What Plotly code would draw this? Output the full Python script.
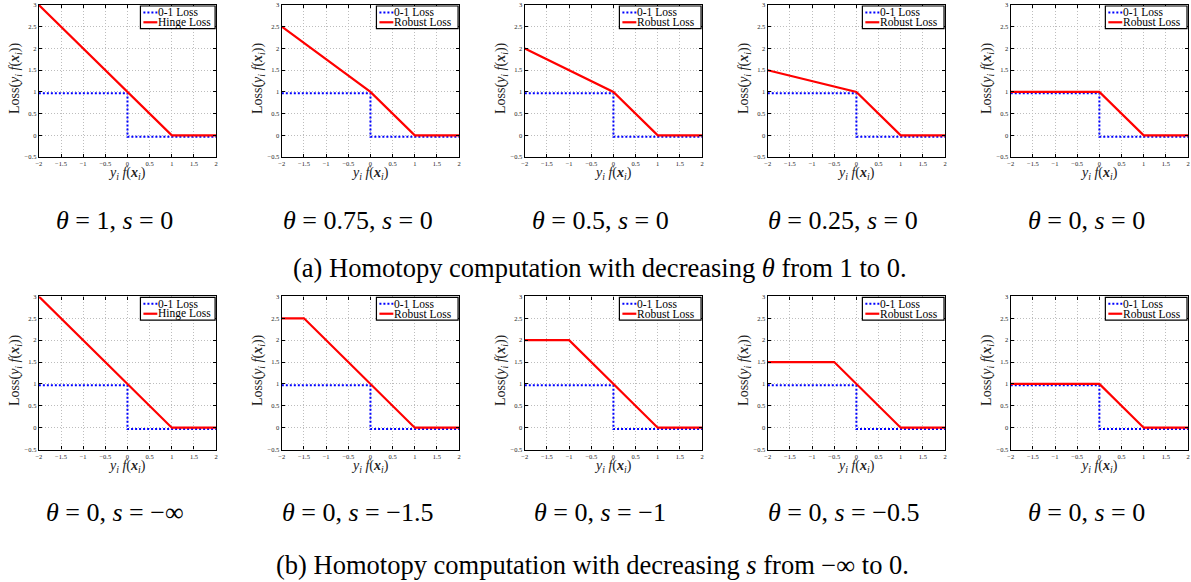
import plotly.graph_objects as go

# ---------------- data ----------------
x_01 = [-2, 0, 0, 2]
y_01 = [0.97, 0.97, -0.03, -0.03]

row1_x = [[-2, 0, 1, 2], [-2, 0, 1, 2], [-2, 0, 1, 2], [-2, 0, 1, 2], [-2, 0, 1, 2]]
row1_y = [[3, 1, 0, 0], [2.5, 1, 0, 0], [2, 1, 0, 0], [1.5, 1, 0, 0], [1, 1, 0, 0]]
row2_x = [[-2, 1, 2], [-2, -1.5, 1, 2], [-2, -1, 1, 2], [-2, -0.5, 1, 2], [-2, 0, 1, 2]]
row2_y = [[3, 0, 0], [2.5, 2.5, 0, 0], [2, 2, 0, 0], [1.5, 1.5, 0, 0], [1, 1, 0, 0]]

loss_names_row = ["Hinge Loss", "Robust Loss", "Robust Loss", "Robust Loss", "Robust Loss"]
row1_captions = ["<i>θ</i> = 1, <i>s</i> = 0", "<i>θ</i> = 0.75, <i>s</i> = 0",
                 "<i>θ</i> = 0.5, <i>s</i> = 0", "<i>θ</i> = 0.25, <i>s</i> = 0",
                 "<i>θ</i> = 0, <i>s</i> = 0"]
row2_captions = ["<i>θ</i> = 0, <i>s</i> = −∞", "<i>θ</i> = 0, <i>s</i> = −1.5",
                 "<i>θ</i> = 0, <i>s</i> = −1", "<i>θ</i> = 0, <i>s</i> = −0.5",
                 "<i>θ</i> = 0, <i>s</i> = 0"]
caption_a = "(a) Homotopy computation with decreasing <i>θ</i> from 1 to 0."
caption_b = "(b) Homotopy computation with decreasing <i>s</i> from −∞ to 0."

x_ticks = [-2, -1.5, -1, -0.5, 0, 0.5, 1, 1.5, 2]
y_ticks = [-0.5, 0, 0.5, 1, 1.5, 2, 2.5, 3]

# ---------------- layout helpers ----------------
W, H = 1191, 582
SERIF = "Liberation Serif"
DOTS = "2px,2px"


def px(x):
    return x / W


def py(y):
    return 1 - y / H


lefts = [36, 280, 524, 768, 1012]
pw = 178
tops = [1, 296]
bottoms = [155, 451]

fig = go.Figure()
layout = dict(width=W, height=H, margin=dict(l=0, r=0, t=0, b=0),
              paper_bgcolor="white", plot_bgcolor="white", showlegend=False)
shapes = []
annotations = []

xs_all = row1_x + row2_x
ys_all = row1_y + row2_y
caps_all = row1_captions + row2_captions

for n in range(1, 11):
    r = (n - 1) // 5
    c = (n - 1) % 5
    L = lefts[c]
    R = L + pw
    T = tops[r]
    B = bottoms[r]
    xa = "x" if n == 1 else f"x{n}"
    ya = "y" if n == 1 else f"y{n}"
    axis_common = dict(showline=True, linecolor="black", linewidth=1.3, mirror="ticks",
                       ticks="inside", ticklen=3, tickcolor="black", tickwidth=1,
                       showgrid=True, gridcolor="#bdbdbd", griddash="1px,2px", gridwidth=1,
                       zeroline=False, tickfont=dict(family=SERIF, size=6.5, color="#222"),
                       fixedrange=True)
    layout["xaxis" if n == 1 else f"xaxis{n}"] = dict(
        domain=[px(L), px(R)], anchor=ya, range=[-2, 2], tickvals=x_ticks, **axis_common)
    layout["yaxis" if n == 1 else f"yaxis{n}"] = dict(
        domain=[py(B), py(T)], anchor=xa, range=[-0.5, 3], tickvals=y_ticks, **axis_common)

    fig.add_trace(go.Scatter(x=x_01, y=y_01, mode="lines", xaxis=xa, yaxis=ya,
                             line=dict(color="#0000ff", width=2, dash=DOTS),
                             name="0-1 Loss", hoverinfo="skip"))
    fig.add_trace(go.Scatter(x=xs_all[n - 1], y=ys_all[n - 1], mode="lines", xaxis=xa, yaxis=ya,
                             line=dict(color="#ff0000", width=2.2),
                             name=loss_names_row[c], hoverinfo="skip"))

    # axis titles
    annotations.append(dict(
        x=px((L + R) / 2), y=py(B + 17), xref="paper", yref="paper", showarrow=False,
        text="<i>y<sub>i</sub> f</i>(<b><i>x</i></b><sub><i>i</i></sub>)",
        font=dict(family=SERIF, size=14, color="#222"), xanchor="center", yanchor="middle"))
    annotations.append(dict(
        x=px(L - 24), y=py((T + B) / 2 - 3), xref="paper", yref="paper", showarrow=False,
        text="Loss(<i>y<sub>i</sub> f</i>(<b><i>x</i></b><sub><i>i</i></sub>))", textangle=-90,
        font=dict(family=SERIF, size=14, color="#222"), xanchor="center", yanchor="middle"))

    # legend box
    wL = 75 if c == 0 else 82
    bx1 = R - 1
    bx0 = bx1 - wL
    by0 = T + 1
    by1 = by0 + 23
    shapes.append(dict(type="rect", xref="paper", yref="paper",
                       x0=px(bx0), x1=px(bx1), y0=py(by1), y1=py(by0),
                       fillcolor="white", line=dict(color="black", width=1.2), layer="above"))
    rows_y = [by0 + 6.5, by0 + 16.5]
    shapes.append(dict(type="line", xref="paper", yref="paper",
                       x0=px(bx0 + 3), x1=px(bx0 + 17), y0=py(rows_y[0]), y1=py(rows_y[0]),
                       line=dict(color="#0000ff", width=2, dash=DOTS), layer="above"))
    shapes.append(dict(type="line", xref="paper", yref="paper",
                       x0=px(bx0 + 3), x1=px(bx0 + 17), y0=py(rows_y[1]), y1=py(rows_y[1]),
                       line=dict(color="#ff0000", width=2.2), layer="above"))
    for txt, yy in zip(["0-1 Loss", loss_names_row[c]], rows_y):
        annotations.append(dict(
            x=px(bx0 + 17), y=py(yy), xref="paper", yref="paper", showarrow=False,
            text=txt, font=dict(family=SERIF, size=11.5, color="black"),
            xanchor="left", yanchor="middle", borderpad=0))

    # sub caption
    annotations.append(dict(
        x=px(L + pw / 2 - 13), y=py(219 if r == 0 else 515), xref="paper", yref="paper",
        showarrow=False, text=caps_all[n - 1],
        font=dict(family=SERIF, size=26, color="black"), xanchor="center", yanchor="middle"))

annotations.append(dict(x=px(600), y=py(267), xref="paper", yref="paper", showarrow=False,
                        text=caption_a, font=dict(family=SERIF, size=26.5, color="black"),
                        xanchor="center", yanchor="middle"))
annotations.append(dict(x=px(592), y=py(568), xref="paper", yref="paper", showarrow=False,
                        text=caption_b, font=dict(family=SERIF, size=26.5, color="black"),
                        xanchor="center", yanchor="middle"))

layout["shapes"] = shapes
layout["annotations"] = annotations
fig.update_layout(**layout)
fig.write_html("out.html", config={"displayModeBar": False},
               post_script="document.body.style.margin='0px';document.body.style.overflow='hidden';")
